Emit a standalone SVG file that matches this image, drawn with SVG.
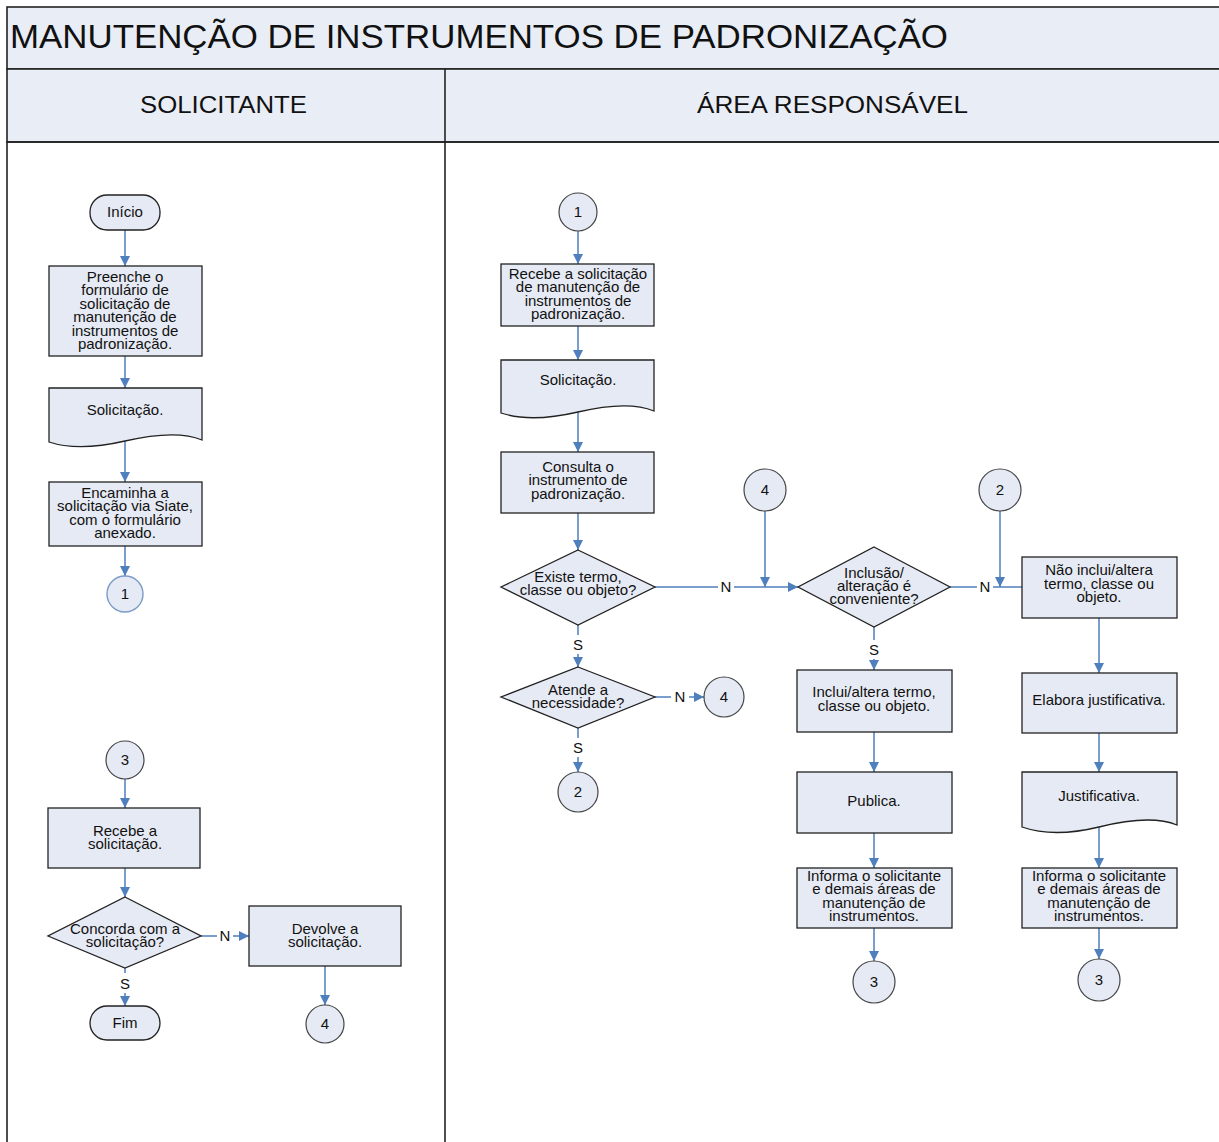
<svg xmlns="http://www.w3.org/2000/svg" width="1219" height="1142" viewBox="0 0 1219 1142">
<style>
.hdr{fill:#e9edf6;stroke:#222;stroke-width:1.6}
.frame{fill:none;stroke:#222;stroke-width:1.6}
.nd{fill:#e6eaf4;stroke:#222;stroke-width:1.3}
.cl{fill:#e6eaf4;stroke:#444;stroke-width:1.2}
.t{font-family:"Liberation Sans",Arial,sans-serif;font-size:15px;fill:#111;text-anchor:middle}
.lbl{font-family:"Liberation Sans",Arial,sans-serif;font-size:15px;fill:#111;text-anchor:middle}
.cn{fill:none;stroke:#4f7fbd;stroke-width:1.5}
.ttl{font-family:"Liberation Sans",Arial,sans-serif;fill:#111}
</style>
<defs>
<marker id="ar" viewBox="0 0 10 10" refX="10" refY="5" markerWidth="10" markerHeight="10" markerUnits="userSpaceOnUse" orient="auto">
<path d="M0,0 L10,5 L0,10 z" fill="#4f7fbd"/>
</marker>
</defs>
<rect x="0" y="0" width="1219" height="1142" fill="#fff"/>
<g id="pool">
<rect class="hdr" x="7" y="7" width="1220" height="62"/>
<rect class="hdr" x="7" y="69" width="1220" height="73"/>
<rect class="frame" x="7" y="142" width="1220" height="1010"/>
<line class="frame" x1="445" y1="69" x2="445" y2="1150"/>
<text class="ttl" x="10" y="48" font-size="33" textLength="938" lengthAdjust="spacingAndGlyphs">MANUTENÇÃO DE INSTRUMENTOS DE PADRONIZAÇÃO</text>
<text class="ttl" x="140" y="113" font-size="23" textLength="167" lengthAdjust="spacingAndGlyphs">SOLICITANTE</text>
<text class="ttl" x="697" y="113" font-size="23" textLength="271" lengthAdjust="spacingAndGlyphs">ÁREA RESPONSÁVEL</text>
</g>
<g id="connectors">
<line class="cn" x1="125" y1="230" x2="125" y2="266" marker-end="url(#ar)"/>
<line class="cn" x1="125" y1="356" x2="125" y2="388" marker-end="url(#ar)"/>
<line class="cn" x1="125" y1="441" x2="125" y2="482" marker-end="url(#ar)"/>
<line class="cn" x1="125" y1="546" x2="125" y2="576" marker-end="url(#ar)"/>
<line class="cn" x1="125" y1="779" x2="125" y2="808" marker-end="url(#ar)"/>
<line class="cn" x1="125" y1="868" x2="125" y2="897" marker-end="url(#ar)"/>
<line class="cn" x1="201" y1="936" x2="217" y2="936"/>
<line class="cn" x1="233" y1="936" x2="249" y2="936" marker-end="url(#ar)"/>
<line class="cn" x1="125" y1="968" x2="125" y2="973"/>
<line class="cn" x1="125" y1="993" x2="125" y2="1006" marker-end="url(#ar)"/>
<line class="cn" x1="325" y1="966" x2="325" y2="1005" marker-end="url(#ar)"/>
<line class="cn" x1="578" y1="231" x2="578" y2="264" marker-end="url(#ar)"/>
<line class="cn" x1="578" y1="326" x2="578" y2="360" marker-end="url(#ar)"/>
<line class="cn" x1="578" y1="412" x2="578" y2="452" marker-end="url(#ar)"/>
<line class="cn" x1="578" y1="513" x2="578" y2="550" marker-end="url(#ar)"/>
<line class="cn" x1="655" y1="587" x2="718" y2="587"/>
<line class="cn" x1="734" y1="587" x2="798" y2="587" marker-end="url(#ar)"/>
<line class="cn" x1="765" y1="511" x2="765" y2="587" marker-end="url(#ar)"/>
<line class="cn" x1="578" y1="625" x2="578" y2="635"/>
<line class="cn" x1="578" y1="654" x2="578" y2="667" marker-end="url(#ar)"/>
<line class="cn" x1="655" y1="697" x2="671" y2="697"/>
<line class="cn" x1="689" y1="697" x2="704" y2="697" marker-end="url(#ar)"/>
<line class="cn" x1="578" y1="728" x2="578" y2="738"/>
<line class="cn" x1="578" y1="757" x2="578" y2="772" marker-end="url(#ar)"/>
<line class="cn" x1="950" y1="587" x2="977" y2="587"/>
<line class="cn" x1="993" y1="587" x2="1022" y2="587"/>
<line class="cn" x1="1000" y1="511" x2="1000" y2="587" marker-end="url(#ar)"/>
<line class="cn" x1="874" y1="627" x2="874" y2="640"/>
<line class="cn" x1="874" y1="659" x2="874" y2="670" marker-end="url(#ar)"/>
<line class="cn" x1="874" y1="732" x2="874" y2="772" marker-end="url(#ar)"/>
<line class="cn" x1="874" y1="833" x2="874" y2="868" marker-end="url(#ar)"/>
<line class="cn" x1="874" y1="928" x2="874" y2="961" marker-end="url(#ar)"/>
<line class="cn" x1="1099" y1="618" x2="1099" y2="673" marker-end="url(#ar)"/>
<line class="cn" x1="1099" y1="733" x2="1099" y2="772" marker-end="url(#ar)"/>
<line class="cn" x1="1099" y1="827" x2="1099" y2="868" marker-end="url(#ar)"/>
<line class="cn" x1="1099" y1="928" x2="1099" y2="959" marker-end="url(#ar)"/>
<text class="lbl" x="225" y="941">N</text>
<text class="lbl" x="125" y="989">S</text>
<text class="lbl" x="726" y="592">N</text>
<text class="lbl" x="578" y="650">S</text>
<text class="lbl" x="680" y="702">N</text>
<text class="lbl" x="578" y="753">S</text>
<text class="lbl" x="985" y="592">N</text>
<text class="lbl" x="874" y="655">S</text>
</g>
<g id="inicio"><rect class="nd" x="90" y="195" width="70" height="35" rx="17"/><text class="t" x="125" y="217">Início</text></g>
<g id="preenche"><rect class="nd" x="49" y="266" width="153" height="90"/>
<text class="t" x="125" y="282">Preenche o</text><text class="t" x="125" y="295.4">formulário de</text><text class="t" x="125" y="308.8">solicitação de</text><text class="t" x="125" y="322.2">manutenção de</text><text class="t" x="125" y="335.6">instrumentos de</text><text class="t" x="125" y="349">padronização.</text></g>
<g id="doc-sol-l"><path class="nd" d="M49,388 H202 V440 C185,433 160,433 125,441 C95,448 70,449 49,442 Z"/><text class="t" x="125" y="415">Solicitação.</text></g>
<g id="encaminha"><rect class="nd" x="49" y="482" width="153" height="64"/>
<text class="t" x="125" y="498">Encaminha a</text><text class="t" x="125" y="511.3">solicitação via Siate,</text><text class="t" x="125" y="524.6">com o formulário</text><text class="t" x="125" y="538">anexado.</text></g>
<g id="c1-l"><circle cx="125" cy="594" r="18" fill="#e6eaf4" stroke="#7b9cc8" stroke-width="1.4"/><text class="t" x="125" y="599" font-size="13">1</text></g>
<g id="c3-l"><circle class="cl" cx="125" cy="760" r="19"/><text class="t" x="125" y="765" font-size="13">3</text></g>
<g id="recebe-l"><rect class="nd" x="48" y="808" width="152" height="60"/>
<text class="t" x="125" y="836">Recebe a</text><text class="t" x="125" y="849">solicitação.</text></g>
<g id="concorda"><path class="nd" d="M125,897 L201,936 L125,968 L48,936 Z"/>
<text class="t" x="125" y="934">Concorda com a</text><text class="t" x="125" y="947">solicitação?</text></g>
<g id="devolve"><rect class="nd" x="249" y="906" width="152" height="60"/>
<text class="t" x="325" y="934">Devolve a</text><text class="t" x="325" y="947">solicitação.</text></g>
<g id="fim"><rect class="nd" x="90" y="1006" width="70" height="34" rx="17"/><text class="t" x="125" y="1028">Fim</text></g>
<g id="c4-l"><circle class="cl" cx="325" cy="1024" r="19"/><text class="t" x="325" y="1029" font-size="13">4</text></g>
<g id="c1-r"><circle class="cl" cx="578" cy="212" r="19"/><text class="t" x="578" y="217" font-size="13">1</text></g>
<g id="recebe-r"><rect class="nd" x="501" y="264" width="153" height="62"/>
<text class="t" x="578" y="279">Recebe a solicitação</text><text class="t" x="578" y="292.3">de manutenção de</text><text class="t" x="578" y="305.6">instrumentos de</text><text class="t" x="578" y="318.9">padronização.</text></g>
<g id="doc-sol-r"><path class="nd" d="M501,360 H654 V411 C637,404 612,404 578,412 C548,419 522,420 501,413 Z"/><text class="t" x="578" y="385">Solicitação.</text></g>
<g id="consulta"><rect class="nd" x="501" y="452" width="153" height="61"/>
<text class="t" x="578" y="472">Consulta o</text><text class="t" x="578" y="485.3">instrumento de</text><text class="t" x="578" y="498.6">padronização.</text></g>
<g id="existe"><path class="nd" d="M578,550 L655,587 L578,625 L501,587 Z"/>
<text class="t" x="578" y="582">Existe termo,</text><text class="t" x="578" y="595">classe ou objeto?</text></g>
<g id="atende"><path class="nd" d="M578,667 L655,697 L578,728 L501,697 Z"/>
<text class="t" x="578" y="695">Atende a</text><text class="t" x="578" y="708">necessidade?</text></g>
<g id="c4-r1"><circle class="cl" cx="724" cy="697" r="20"/><text class="t" x="724" y="702" font-size="13">4</text></g>
<g id="c2-r1"><circle class="cl" cx="578" cy="792" r="20"/><text class="t" x="578" y="797" font-size="13">2</text></g>
<g id="c4-r2"><circle class="cl" cx="765" cy="490" r="21"/><text class="t" x="765" y="495" font-size="13">4</text></g>
<g id="c2-r2"><circle class="cl" cx="1000" cy="490" r="21"/><text class="t" x="1000" y="495" font-size="13">2</text></g>
<g id="inclusao"><path class="nd" d="M874,547 L950,587 L874,627 L798,587 Z"/>
<text class="t" x="874" y="578">Inclusão/</text><text class="t" x="874" y="591">alteração é</text><text class="t" x="874" y="604">conveniente?</text></g>
<g id="naoinclui"><rect class="nd" x="1022" y="557" width="155" height="61"/>
<text class="t" x="1099" y="575">Não inclui/altera</text><text class="t" x="1099" y="588.5">termo, classe ou</text><text class="t" x="1099" y="602">objeto.</text></g>
<g id="inclui"><rect class="nd" x="797" y="670" width="155" height="62"/>
<text class="t" x="874" y="697">Inclui/altera termo,</text><text class="t" x="874" y="711">classe ou objeto.</text></g>
<g id="publica"><rect class="nd" x="797" y="772" width="155" height="61"/><text class="t" x="874" y="806">Publica.</text></g>
<g id="informa-1"><rect class="nd" x="797" y="868" width="155" height="60"/>
<text class="t" x="874" y="881">Informa o solicitante</text><text class="t" x="874" y="894.3">e demais áreas de</text><text class="t" x="874" y="907.6">manutenção de</text><text class="t" x="874" y="920.9">instrumentos.</text></g>
<g id="c3-r1"><circle class="cl" cx="874" cy="982" r="21"/><text class="t" x="874" y="987" font-size="13">3</text></g>
<g id="elabora"><rect class="nd" x="1022" y="673" width="155" height="60"/><text class="t" x="1099" y="705">Elabora justificativa.</text></g>
<g id="doc-just"><path class="nd" d="M1022,772 H1177 V825 C1160,818 1135,818 1099,827 C1070,834 1045,835 1022,827 Z"/><text class="t" x="1099" y="801">Justificativa.</text></g>
<g id="informa-2"><rect class="nd" x="1022" y="868" width="155" height="60"/>
<text class="t" x="1099" y="881">Informa o solicitante</text><text class="t" x="1099" y="894.3">e demais áreas de</text><text class="t" x="1099" y="907.6">manutenção de</text><text class="t" x="1099" y="920.9">instrumentos.</text></g>
<g id="c3-r2"><circle class="cl" cx="1099" cy="980" r="21"/><text class="t" x="1099" y="985" font-size="13">3</text></g>
</svg>
